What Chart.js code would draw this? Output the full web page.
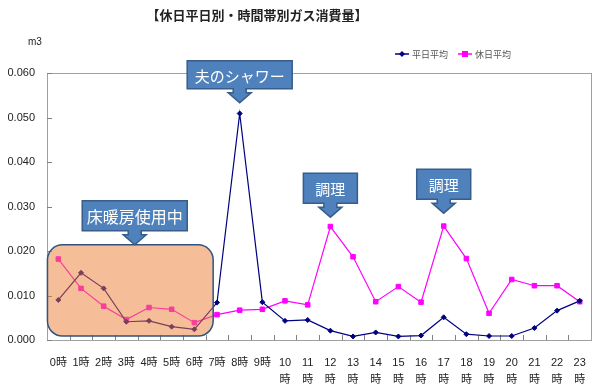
<!DOCTYPE html>
<html>
<head>
<meta charset="utf-8">
<script src="https://cdn.jsdelivr.net/npm/chart.js@4.4.1/dist/chart.umd.min.js"></script>
<style>
  body { margin: 0; background: #fff; }
  #wrap { width: 600px; height: 390px; }
</style>
</head>
<body>
<div id="wrap"><canvas id="myChart" width="600" height="390"></canvas></div>
<script>
var FONT = "'Liberation Sans', 'Noto Sans CJK JP', sans-serif";

var hours = ["0時","1時","2時","3時","4時","5時","6時","7時","8時","9時",
  ["10","時"],["11","時"],["12","時"],["13","時"],["14","時"],["15","時"],["16","時"],
  ["17","時"],["18","時"],["19","時"],["20","時"],["21","時"],["22","時"],["23","時"]];

var weekday = [0.0090,0.0151,0.0116,0.0041,0.0043,0.0030,0.0024,0.0084,0.0509,0.0085,
  0.0043,0.0045,0.0021,0.0008,0.0017,0.0008,0.0010,0.0051,0.0013,0.0009,0.0009,0.0027,0.0066,0.0088];

var holiday = [0.0182,0.0116,0.0076,0.0046,0.0073,0.0069,0.0039,0.0057,0.0067,0.0069,
  0.0088,0.0079,0.0255,0.0187,0.0086,0.0120,0.0085,0.0256,0.0183,0.0060,0.0136,0.0122,0.0122,0.0086];

var yTicks = [0, 0.01, 0.02, 0.03, 0.04, 0.05, 0.06];

// callouts: arrow tip at (category index, value)
var callouts = [
  { text: "夫のシャワー", index: 8, value: 0.0533, w: 105, h: 28, size: 15 },
  { text: "調理", index: 12, value: 0.0276, w: 54, h: 30, size: 15 },
  { text: "調理", index: 17, value: 0.0285, w: 54, h: 30, size: 15 },
  { text: "床暖房使用中", index: 3.37, value: 0.0214, w: 105, h: 30, size: 16 }
];
// heated period box (category range, value range)
var heatBox = { from: -0.48, to: 6.83, top: 0.0214, bottom: 0.0009 };

var frame = {
  id: "frame",
  beforeDatasetsDraw: function(chart) {
    var ctx = chart.ctx, a = chart.chartArea;
    var xs = chart.scales.x, ys = chart.scales.y;
    ctx.save();
    ctx.strokeStyle = "#a0a0a0";
    ctx.lineWidth = 1;
    ctx.strokeRect(Math.round(a.left) + 0.5, Math.round(a.top) + 0.5, Math.round(a.right - a.left), Math.round(a.bottom - a.top));
    ctx.strokeStyle = "#808080";
    ctx.beginPath();
    var step = (a.right - a.left) / hours.length;
    for (var i = 1; i < hours.length; i++) {
      var px = Math.round(xs.getPixelForValue(i) - step / 2) + 0.5;
      ctx.moveTo(px, a.bottom);
      ctx.lineTo(px, a.bottom - 5);
    }
    yTicks.forEach(function(v) {
      var py = Math.round(ys.getPixelForValue(v)) + 0.5;
      ctx.moveTo(a.left, py);
      ctx.lineTo(a.left + 5, py);
    });
    ctx.stroke();
    ctx.restore();
  },
  afterDatasetsDraw: function(chart) {
    var ctx = chart.ctx;
    var xs = chart.scales.x, ys = chart.scales.y;
    ctx.save();
    // orange box
    var x0 = xs.getPixelForValue(heatBox.from), x1 = xs.getPixelForValue(heatBox.to);
    var y0 = ys.getPixelForValue(heatBox.top), y1 = ys.getPixelForValue(heatBox.bottom);
    ctx.beginPath();
    ctx.roundRect(x0, y0, x1 - x0, y1 - y0, 15);
    ctx.fillStyle = "rgba(237,125,49,0.5)";
    ctx.fill();
    ctx.strokeStyle = "#2e5480";
    ctx.lineWidth = 1.5;
    ctx.stroke();

    callouts.forEach(function(c) {
      var tx = xs.getPixelForValue(c.index), ty = ys.getPixelForValue(c.value);
      var headH = 10, stemH = 4, stemW = 13, headW = 23;
      var bb = ty - headH - stemH, bt = bb - c.h;
      var bl = tx - c.w / 2, br = tx + c.w / 2;
      ctx.beginPath();
      ctx.moveTo(bl, bt);
      ctx.lineTo(br, bt);
      ctx.lineTo(br, bb);
      ctx.lineTo(tx + stemW / 2, bb);
      ctx.lineTo(tx + stemW / 2, bb + stemH);
      ctx.lineTo(tx + headW / 2, bb + stemH);
      ctx.lineTo(tx, ty);
      ctx.lineTo(tx - headW / 2, bb + stemH);
      ctx.lineTo(tx - stemW / 2, bb + stemH);
      ctx.lineTo(tx - stemW / 2, bb);
      ctx.lineTo(bl, bb);
      ctx.closePath();
      ctx.fillStyle = "#4f81bd";
      ctx.fill();
      ctx.strokeStyle = "#385d8a";
      ctx.lineWidth = 1.5;
      ctx.stroke();
      ctx.fillStyle = "#ffffff";
      ctx.font = c.size + "px 'Noto Sans CJK JP', sans-serif";
      ctx.textAlign = "center";
      ctx.textBaseline = "middle";
      ctx.fillText(c.text, tx, bt + c.h / 2 + 1);
    });
    ctx.restore();
  },
  afterDraw: function(chart) {
    var ctx = chart.ctx;
    ctx.save();
    ctx.fillStyle = "#222";
    ctx.textAlign = "center";
    ctx.textBaseline = "middle";
    ctx.font = "bold 13px 'Noto Sans CJK JP', sans-serif";
    ctx.fillText("【休日平日別・時間帯別ガス消費量】", 257, 15);
    ctx.font = "10px " + FONT;
    ctx.textAlign = "left";
    ctx.fillText("m3", 28, 42);

    // legend
    var items = [
      { label: "平日平均", ds: chart.data.datasets[0], x: 395 },
      { label: "休日平均", ds: chart.data.datasets[1], x: 458 }
    ];
    ctx.font = "9px 'Noto Sans CJK JP', sans-serif";
    items.forEach(function(it) {
      var ly = 54;
      ctx.strokeStyle = it.ds.borderColor;
      ctx.lineWidth = 1.5;
      ctx.beginPath();
      ctx.moveTo(it.x, ly);
      ctx.lineTo(it.x + 14, ly);
      ctx.stroke();
      ctx.fillStyle = it.ds.borderColor;
      if (it.ds.pointStyle === "rect") {
        ctx.fillRect(it.x + 4, ly - 3, 6, 6);
      } else {
        ctx.beginPath();
        ctx.moveTo(it.x + 7, ly - 3);
        ctx.lineTo(it.x + 10, ly);
        ctx.lineTo(it.x + 7, ly + 3);
        ctx.lineTo(it.x + 4, ly);
        ctx.closePath();
        ctx.fill();
      }
      ctx.fillStyle = "#555";
      ctx.fillText(it.label, it.x + 17, ly + 1);
    });
    ctx.restore();
  }
};

var myChart = new Chart("myChart", {
  type: "line",
  data: {
    labels: hours,
    datasets: [{
      label: "平日平均",
      data: weekday,
      borderColor: "#000080",
      backgroundColor: "#000080",
      borderWidth: 1.2,
      pointStyle: "rectRot",
      pointRadius: 2.5,
      pointBorderWidth: 1,
      tension: 0
    }, {
      label: "休日平均",
      data: holiday,
      borderColor: "#ff00ff",
      backgroundColor: "#ff00ff",
      borderWidth: 1.2,
      pointStyle: "rect",
      pointRadius: 3.2,
      pointBorderWidth: 1,
      tension: 0
    }]
  },
  options: {
    responsive: false,
    animation: false,
    layout: { padding: { top: 73, right: 7, left: 0, bottom: 0 } },
    plugins: {
      legend: { display: false },
      title: { display: false },
      tooltip: { enabled: false }
    },
    scales: {
      x: {
        offset: true,
        grid: { display: false, drawTicks: false },
        border: { display: false },
        afterFit: function(scale) { scale.height = 50; },
        ticks: {
          autoSkip: false,
          maxRotation: 0,
          minRotation: 0,
          padding: 14,
          color: "#222",
          font: { family: FONT, size: 11, lineHeight: 1.6 }
        }
      },
      y: {
        min: 0,
        max: 0.06,
        grid: { display: false, drawTicks: false },
        border: { display: false },
        afterFit: function(scale) { scale.width = 47; },
        afterBuildTicks: function(scale) {
          scale.ticks = yTicks.map(function(v) { return { value: v }; });
        },
        ticks: {
          padding: 12,
          color: "#222",
          font: { family: FONT, size: 11 },
          callback: function(v) { return Number(v).toFixed(3); }
        }
      }
    }
  },
  plugins: [frame]
});
</script>
</body>
</html>
